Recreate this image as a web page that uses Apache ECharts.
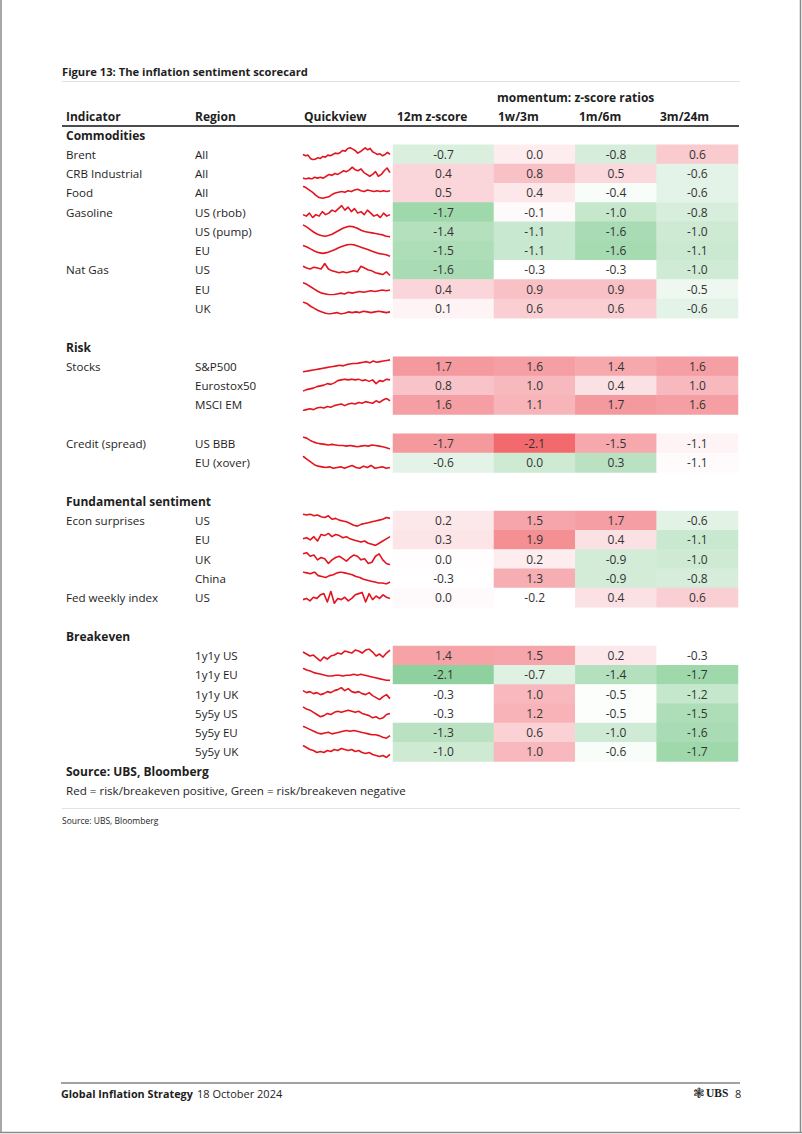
<!DOCTYPE html>
<html>
<head>
<meta charset="utf-8">
<script src="https://cdn.jsdelivr.net/npm/echarts@6/dist/echarts.min.js"></script>
<style>
html,body{margin:0;padding:0;background:#fff;}
#chart{width:802px;height:1134px;}
</style>
</head>
<body>
<div id="chart"></div>
<script>
// ---------------- DATA ----------------
const title = 'Figure 13: The inflation sentiment scorecard';
const columnHeaders = ['12m z-score', '1w/3m', '1m/6m', '3m/24m'];
const sections = ['Commodities', 'Risk', 'Fundamental sentiment', 'Breakeven'];
const indicators = ['Brent','CRB Industrial','Food','Gasoline','','','Nat Gas','','',
  'Stocks','','','Credit (spread)','',
  'Econ surprises','','','','Fed weekly index',
  '','','','','',''];
const regions = ['All','All','All','US (rbob)','US (pump)','EU','US','EU','UK',
  'S&P500','Eurostox50','MSCI EM','US BBB','EU (xover)',
  'US','EU','UK','China','US',
  '1y1y US','1y1y EU','1y1y UK','5y5y US','5y5y EU','5y5y UK'];
const zscore12m = [-0.7,0.4,0.5,-1.7,-1.4,-1.5,-1.6,0.4,0.1, 1.7,0.8,1.6,-1.7,-0.6, 0.2,0.3,0.0,-0.3,0.0, 1.4,-2.1,-0.3,-0.3,-1.3,-1.0];
const mom1w3m   = [0.0,0.8,0.4,-0.1,-1.1,-1.1,-0.3,0.9,0.6, 1.6,1.0,1.1,-2.1,0.0, 1.5,1.9,0.2,1.3,-0.2, 1.5,-0.7,1.0,1.2,0.6,1.0];
const mom1m6m   = [-0.8,0.5,-0.4,-1.0,-1.6,-1.6,-0.3,0.9,0.6, 1.4,0.4,1.7,-1.5,0.3, 1.7,0.4,-0.9,-0.9,0.4, 0.2,-1.4,-0.5,-0.5,-1.0,-0.6];
const mom3m24m  = [0.6,-0.6,-0.6,-0.8,-1.0,-1.1,-1.0,-0.5,-0.6, 1.6,1.0,1.6,-1.1,-1.1, -0.6,-1.1,-1.0,-0.8,0.6, -0.3,-1.7,-1.2,-1.5,-1.6,-1.7];
// colour signal (positive = red, negative = green), read from the cell shading
const heat12m  = [-0.7,0.5,0.5,-1.8,-1.4,-1.5,-1.6,0.5,0.1, 1.75,0.8,1.65,1.75,-0.5, 0.2,0.25,0.02,0.0,0.05, 1.55,-2.1,0.0,0.0,-1.3,-0.95];
const heat1w3m = [0.15,0.85,0.2,0.05,-1.05,-1.05,0.0,0.85,0.6, 1.65,1.0,1.1,2.1,-0.95, 1.5,1.85,0.15,1.3,0.0, 1.5,-0.6,1.0,1.15,0.55,1.0];
const heat1m6m = [-0.8,0.45,-0.1,-1.1,-1.6,-1.65,0.0,0.85,0.6, 1.45,0.3,1.75,1.45,-1.3, 1.65,0.3,-0.85,-0.85,0.3, 0.2,-1.4,-0.05,-0.05,-0.9,-0.1];
const heat3m24m= [0.7,-0.5,-0.5,-0.75,-0.95,-1.0,-0.9,-0.3,-0.5, 1.65,1.0,1.65,0.1,0.03, -0.55,-1.05,-0.95,-0.8,0.6, 0.0,-1.8,-1.1,-1.5,-1.6,-1.8];
// quickview sparkline series (relative levels)
const sparks = [
  [12,10,11,6,4,5,7,6,9,8,11,10,12,14,13,15,18,17,21,22,20,18,14,16,19,22,19,21,16,14,12,13,10,12,15,12],
  [8,7,8,7,9,8,9,8,10,12,11,13,12,14,16,15,17,20,17,16,18,14,12,10,12,15,10,12,16,19,14],
  [20,18,15,12,8,5,4,5,6,9,11,12,13,12,14,13,15,16,14,13,15,14,13,14,13,14,13,14],
  [10,9,11,8,10,9,12,10,11,13,12,14,16,13,15,12,14,11,12,10,13,11,9,10,8,11,9,10],
  [20,17,13,9,6,4,3,4,6,9,12,15,17,18,17,15,12,10,9,8,7,6,5,3,2],
  [16,14,11,8,6,5,6,8,10,13,15,17,18,17,15,13,11,9,7,5,4,3,1],
  [14,12,11,13,12,11,17,11,9,8,7,8,7,8,9,8,14,12,10,9,7,6,5,8,4],
  [20,18,15,12,9,7,6,5,5,6,7,6,8,7,8,9,8,9,10,9,10,11,10,11],
  [20,18,14,11,8,6,4,3,4,5,3,4,6,5,6,5,7,6,5,6,7,6,5,6],
  [2,3,4,5,6,7,8,9,10,11,12,13,12,14,15,16,16,17,18,19,17,20,18,19,20,21,22],
  [2,4,5,6,8,9,10,12,11,13,16,17,18,17,18,17,18,16,17,15,17,12,16,15,18,17],
  [3,4,5,4,6,7,6,8,7,9,10,11,9,11,12,11,13,12,14,13,12,15,13,16,18,15],
  [22,20,16,13,11,10,9,8,9,8,7,7,6,7,6,5,6,7,6,8,7,6,5,3,1],
  [20,16,12,8,6,5,4,5,3,4,5,3,5,7,4,3,6,4,7,3,4,5,3,4],
  [16,15,16,14,15,13,12,14,10,11,9,8,7,5,3,2,4,5,6,7,8,9,10,12,11],
  [10,11,9,12,8,14,13,15,12,14,13,11,12,10,9,8,7,8,6,5,4,6,8,10,12],
  [14,15,12,13,9,11,10,6,9,11,12,10,8,11,13,12,9,10,6,7,12,14,9,6,5],
  [16,15,14,16,12,11,10,12,13,15,16,15,14,13,11,10,8,7,6,5,4,4,3,5],
  [8,9,7,10,9,12,13,6,15,5,9,8,10,7,9,12,13,14,6,13,8,11,9,12,10,9],
  [13,11,9,10,7,4,8,6,9,10,12,11,14,13,12,15,14,12,15,16,13,9,11,8,12,15],
  [20,18,17,15,14,13,12,11,11,12,12,11,12,12,13,12,13,12,11,10,9,8,7,6,6],
  [13,11,12,10,11,9,10,12,11,13,14,16,13,15,12,11,12,10,9,11,8,6,4,7,9,5],
  [16,14,13,11,9,7,8,10,9,11,12,11,12,13,12,11,12,10,9,8,6,7,5,6,9,10],
  [18,16,14,12,10,9,10,11,9,10,11,12,13,12,13,12,11,10,9,8,8,7,5,4,7],
  [16,14,12,11,9,10,9,11,10,12,11,13,12,11,12,10,11,9,8,9,7,6,5,6,4,7]
];
const sourceBold = 'Source: UBS, Bloomberg';
const noteText = 'Red = risk/breakeven positive, Green = risk/breakeven negative';
const smallSource = 'Source: UBS, Bloomberg';
const footerTitle = 'Global Inflation Strategy';
const footerDate = '18 October 2024';
const pageNo = '8';

// ---------------- LAYOUT ----------------
const NSLOT = 35;
const P = 19.28;          // row pitch
const Y0 = 135;           // centre of slot 0
const sectionSlots = [0, 11, 19, 26];
const dataSlots = [1,2,3,4,5,6,7,8,9, 12,13,14, 16,17, 20,21,22,23,24, 27,28,29,30,31,32];
const slotY = s => Y0 + s * P;
const FONT = '"Open Sans", "Noto Sans", sans-serif';
const TXT = '#1e1e1e';
const BODY = 11.6;

function hex(c){return [parseInt(c.slice(1,3),16),parseInt(c.slice(3,5),16),parseInt(c.slice(5,7),16)];}
function interp(stops, v){
  for (let i=1;i<stops.length;i++){
    if (v<=stops[i][0] || i===stops.length-1){
      const a=stops[i-1], b=stops[i];
      let t=(v-a[0])/(b[0]-a[0]); t=Math.max(0,Math.min(1,t));
      const ca=hex(a[1]), cb=hex(b[1]);
      return 'rgb('+ca.map((x,k)=>Math.round(x+(cb[k]-x)*t)).join(',')+')';
    }
  }
}
const redStops = [[0,'#ffffff'],[0.2,'#fce7ea'],[0.5,'#fad5d9'],[1.0,'#f7b9be'],[1.5,'#f6a6ab'],[1.8,'#f4969b'],[2.1,'#f26a6e']];
const greenStops = [[0,'#ffffff'],[0.2,'#f3faf4'],[0.5,'#e4f3e7'],[1.0,'#cbe9d1'],[1.5,'#aedeb8'],[2.1,'#8fd19e']];
const colorOf = h => h >= 0 ? interp(redStops, h) : interp(greenStops, -h);

const values = [zscore12m, mom1w3m, mom1m6m, mom3m24m];
const heats = [heat12m, heat1w3m, heat1m6m, heat3m24m];
function cells(cols, xOff){
  const out = [];
  cols.forEach(c => {
    values[c].forEach((v, i) => {
      out.push({value:[c - xOff, dataSlots[i], v], itemStyle:{color: colorOf(heats[c][i])}});
    });
  });
  return out;
}
const slotNames = Array.from({length:NSLOT}, (_, i) => String(i));

const grids = [
  {left:393, width:101, top:Y0 - P/2, height:NSLOT*P},
  {left:494, width:244, top:Y0 - P/2, height:NSLOT*P}
];
const xAxes = [
  {gridIndex:0, type:'category', data:[columnHeaders[0]], show:false},
  {gridIndex:1, type:'category', data:columnHeaders.slice(1), show:false}
];
const yAxes = [
  {gridIndex:0, type:'category', data:slotNames, inverse:true, show:false},
  {gridIndex:1, type:'category', data:slotNames, inverse:true, show:false}
];
const labelCfg = {show:true, color:'#333', fontSize:12, fontFamily:FONT,
  formatter: p => p.value[2].toFixed(1)};
const series = [
  {type:'heatmap', xAxisIndex:0, yAxisIndex:0, data:cells([0],0), label:labelCfg, itemStyle:{borderWidth:0}, emphasis:{disabled:true}, animation:false},
  {type:'heatmap', xAxisIndex:1, yAxisIndex:1, data:cells([1,2,3],1), label:labelCfg, itemStyle:{borderWidth:0}, emphasis:{disabled:true}, animation:false}
];
// sparkline grids
sparks.forEach((arr, i) => {
  const gi = grids.length;
  grids.push({left:303, width:87, top:slotY(dataSlots[i]) - 6.5, height:12});
  xAxes.push({gridIndex:gi, type:'category', show:false, boundaryGap:false, data:arr.map((_, k) => k)});
  yAxes.push({gridIndex:gi, type:'value', show:false, scale:true, min:'dataMin', max:'dataMax'});
  series.push({type:'line', xAxisIndex:gi, yAxisIndex:gi, data:arr, showSymbol:false, symbol:'none',
    lineStyle:{color:'#e3141f', width:1.6, join:'round'}, silent:true, animation:false});
});

// text graphics
const g = [];
function txt(text, x, y, opt){
  opt = opt || {};
  g.push({type:'text', x:x, y:y, silent:true, style:{text:text, fill:opt.fill||TXT,
    font:(opt.bold?'bold ':'') + (opt.size||BODY) + 'px ' + (opt.family||FONT),
    align:opt.align||'left', verticalAlign:'middle'}});
}
function line(x1,y1,x2,y2,color,w){
  g.push({type:'line', silent:true, shape:{x1:x1,y1:y1,x2:x2,y2:y2}, style:{stroke:color, lineWidth:w}});
}
// page frame
line(1, 0, 1, 1133, '#8a8a8a', 1.5);
line(800.5, 0, 800.5, 1133, '#8a8a8a', 1.5);
line(0, 1132.5, 802, 1132.5, '#8a8a8a', 1.5);

txt(title, 62, 71, {bold:true, size:11.2});
line(62, 81.5, 740, 81.5, '#e3e3e3', 1);
txt('momentum: z-score ratios', 497, 97, {bold:true, size:12});
txt('Indicator', 66, 116, {bold:true, size:12});
txt('Region', 195, 116, {bold:true, size:12});
txt('Quickview', 304, 116, {bold:true, size:12});
txt(columnHeaders[0], 397, 116, {bold:true, size:12});
txt(columnHeaders[1], 498, 116, {bold:true, size:12});
txt(columnHeaders[2], 579, 116, {bold:true, size:12});
txt(columnHeaders[3], 660, 116, {bold:true, size:12});
line(62, 126, 739, 126, '#111', 1.5);
sections.forEach((s, i) => txt(s, 66, slotY(sectionSlots[i]), {bold:true, size:12}));
indicators.forEach((s, i) => { if (s) txt(s, 66, slotY(dataSlots[i])); });
regions.forEach((s, i) => txt(s, 195, slotY(dataSlots[i])));
txt(sourceBold, 66, slotY(33), {bold:true, size:12});
txt(noteText, 66, slotY(34));
line(62, 808.5, 740, 808.5, '#e3e3e3', 1);
txt(smallSource, 62, 820, {size:8.5});
// footer
line(61, 1083, 740, 1083, '#444', 1);
txt(footerTitle, 61, 1093, {bold:true, size:10.8});
txt(footerDate, 197, 1093, {size:11});
txt('\u2743', 693, 1093, {size:14, family:'"DejaVu Sans", sans-serif', fill:'#333'});
txt('UBS', 706, 1093, {bold:true, size:11.5, family:'"Liberation Serif", serif'});
txt(pageNo, 735, 1093, {size:11});

const chart = echarts.init(document.getElementById('chart'), null, {renderer:'svg', width:802, height:1134});
chart.setOption({
  backgroundColor:'#ffffff',
  animation:false,
  grid:grids, xAxis:xAxes, yAxis:yAxes, series:series,
  graphic:g
});
</script>
</body>
</html>
